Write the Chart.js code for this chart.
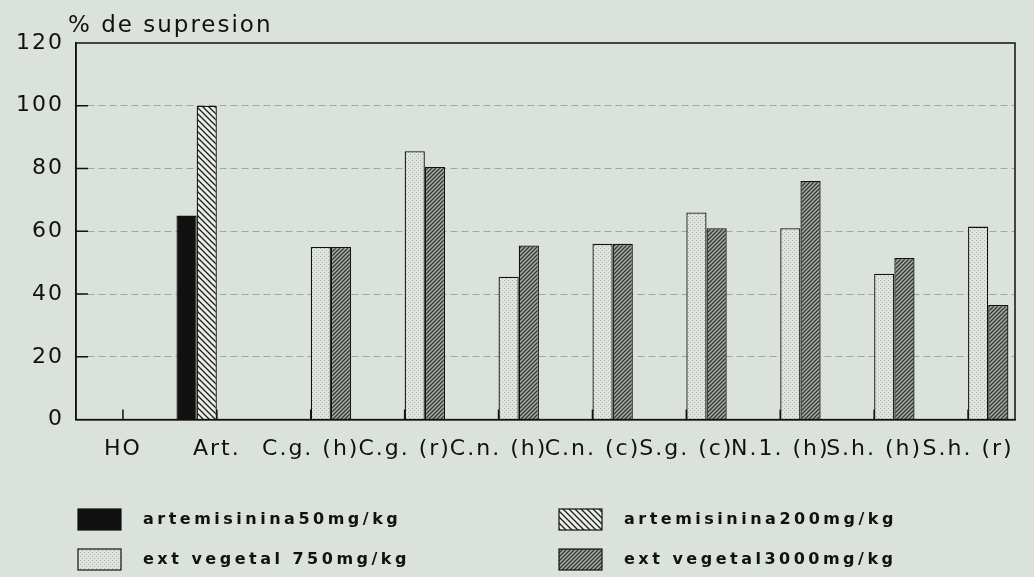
<!DOCTYPE html>
<html>
<head>
<meta charset="utf-8">
<script src="https://cdn.jsdelivr.net/npm/chart.js@4.4.1/dist/chart.umd.min.js"></script>
<style>
  html, body { margin: 0; padding: 0; background: #dbe2dc; }
</style>
</head>
<body>
<canvas id="supChart" width="1034" height="577"></canvas>
<script>
// chart values
const categories = ["HO", "Art.", "C.g. (h)", "C.g. (r)", "C.n. (h)", "C.n. (c)", "S.g. (c)", "N.1. (h)", "S.h. (h)", "S.h. (r)"];
const art50 = [null, 65, null, null, null, null, null, null, null, null];
const art200 = [null, 100, null, null, null, null, null, null, null, null];
const ext750 = [null, null, 55, 85.5, 45.5, 56, 66, 61, 46.5, 61.5];
const ext3000 = [null, null, 55, 80.5, 55.5, 56, 61, 76, 51.5, 36.5];
const seriesNames = ["artemisinina50mg/kg", "artemisinina200mg/kg", "ext vegetal 750mg/kg", "ext vegetal3000mg/kg"];
const yTicks = [0, 20, 40, 60, 80, 100, 120];
const axisTitle = "% de supresion";

const paper = "#dbe2dc";
const ink = "#111111";

function hatch(bg, fg, size, dir, lw) {
    const c = document.createElement("canvas");
    c.width = size;
    c.height = size;
    const g = c.getContext("2d");
    g.fillStyle = bg;
    g.fillRect(0, 0, size, size);
    g.strokeStyle = fg;
    g.lineWidth = lw;
    g.beginPath();
    if (dir > 0) {
        g.moveTo(0, size); g.lineTo(size, 0);
        g.moveTo(-1, 1); g.lineTo(1, -1);
        g.moveTo(size - 1, size + 1); g.lineTo(size + 1, size - 1);
    } else {
        g.moveTo(0, 0); g.lineTo(size, size);
        g.moveTo(-1, size - 1); g.lineTo(1, size + 1);
        g.moveTo(size - 1, -1); g.lineTo(size + 1, 1);
    }
    g.stroke();
    return g.createPattern(c, "repeat");
}

function stipple(bg, fg) {
    const c = document.createElement("canvas");
    c.width = 4;
    c.height = 4;
    const g = c.getContext("2d");
    g.fillStyle = bg;
    g.fillRect(0, 0, 4, 4);
    g.fillStyle = fg;
    g.fillRect(0, 0, 1, 1);
    g.fillRect(2, 2, 1, 1);
    return g.createPattern(c, "repeat");
}

const fills = [
    "#111111",
    hatch("#eceeea", "#1e1e1e", 6, -1, 1.3),
    stipple("#e0e4e0", "#aab0aa"),
    hatch("#a9aea9", "#343734", 4, 1, 1.3)
];
const seriesData = [art50, art200, ext750, ext3000];

const paperPlugin = {
    id: "paper",
    beforeUpdate(chart) {
        chart.ctx.letterSpacing = "2px";
    },
    beforeDraw(chart) {
        const ctx = chart.ctx;
        ctx.save();
        ctx.fillStyle = paper;
        ctx.fillRect(0, 0, chart.width, chart.height);
        ctx.restore();
        ctx.letterSpacing = "2px";
    },
    afterDraw(chart) {
        const ctx = chart.ctx;
        const a = chart.chartArea;
        const xs = chart.scales.x;
        const ys = chart.scales.y;
        ctx.save();
        // frame
        ctx.strokeStyle = ink;
        ctx.lineWidth = 1.5;
        ctx.strokeRect(a.left, a.top, a.right - a.left, a.bottom - a.top);
        // inner tick marks
        ctx.beginPath();
        yTicks.forEach(v => {
            if (v === 0 || v === 120) return;
            const y = ys.getPixelForValue(v);
            ctx.moveTo(a.left, y);
            ctx.lineTo(a.left + 12, y);
        });
        categories.forEach((c, i) => {
            const x = xs.getPixelForValue(i);
            ctx.moveTo(x, a.bottom);
            ctx.lineTo(x, a.bottom - 10);
        });
        ctx.stroke();

        // axis title
        ctx.fillStyle = ink;
        ctx.font = '23px "DejaVu Sans"';
        ctx.letterSpacing = "2px";
        ctx.textBaseline = "alphabetic";
        ctx.textAlign = "left";
        ctx.fillText(axisTitle, 68, 32);

        // legend, two columns
        const cols = [78, 559];
        const rows = [520, 560];
        ctx.font = 'bold 16px "DejaVu Sans"';
        ctx.letterSpacing = "3.5px";
        ctx.textBaseline = "middle";
        chart.data.datasets.forEach((ds, i) => {
            const bx = cols[i % 2];
            const by = rows[Math.floor(i / 2)];
            ctx.fillStyle = ds.backgroundColor;
            ctx.fillRect(bx, by - 11, 43, 21);
            ctx.lineWidth = 1.2;
            ctx.strokeStyle = ink;
            ctx.strokeRect(bx, by - 11, 43, 21);
            ctx.fillStyle = ink;
            ctx.fillText(ds.label, bx + 65, by);
        });
        ctx.restore();
    }
};

const ctx = document.getElementById("supChart").getContext("2d");

const chart = new Chart(ctx, {
    type: "bar",
    data: {
        labels: categories,
        datasets: seriesData.map((d, i) => ({
            label: seriesNames[i],
            data: d,
            backgroundColor: fills[i],
            borderColor: ink,
            borderWidth: 1.3,
            categoryPercentage: 0.86,
            barPercentage: 1.0
        }))
    },
    options: {
        responsive: false,
        animation: false,
        layout: { padding: { left: 4, right: 19, top: 43, bottom: 99 } },
        plugins: {
            legend: { display: false },
            tooltip: { enabled: false }
        },
        scales: {
            x: {
                grid: { display: false, drawTicks: false },
                border: { color: ink, width: 1.5 },
                ticks: {
                    color: ink,
                    font: { family: "DejaVu Sans", size: 22 },
                    padding: 16,
                    autoSkip: false,
                    maxRotation: 0,
                    minRotation: 0
                }
            },
            y: {
                min: 0,
                max: 120,
                afterBuildTicks(scale) {
                    scale.ticks = yTicks.map(v => ({ value: v }));
                },
                grid: {
                    drawTicks: false,
                    lineWidth: 1,
                    color: c => (c.tick && (c.tick.value === 0 || c.tick.value === 120)) ? "rgba(0,0,0,0)" : "rgba(110,120,110,0.55)"
                },
                border: { color: ink, width: 1.5, dash: [7, 4] },
                ticks: {
                    color: ink,
                    font: { family: "DejaVu Sans", size: 22 },
                    padding: 12
                }
            }
        }
    },
    plugins: [paperPlugin]
});
</script>
</body>
</html>
